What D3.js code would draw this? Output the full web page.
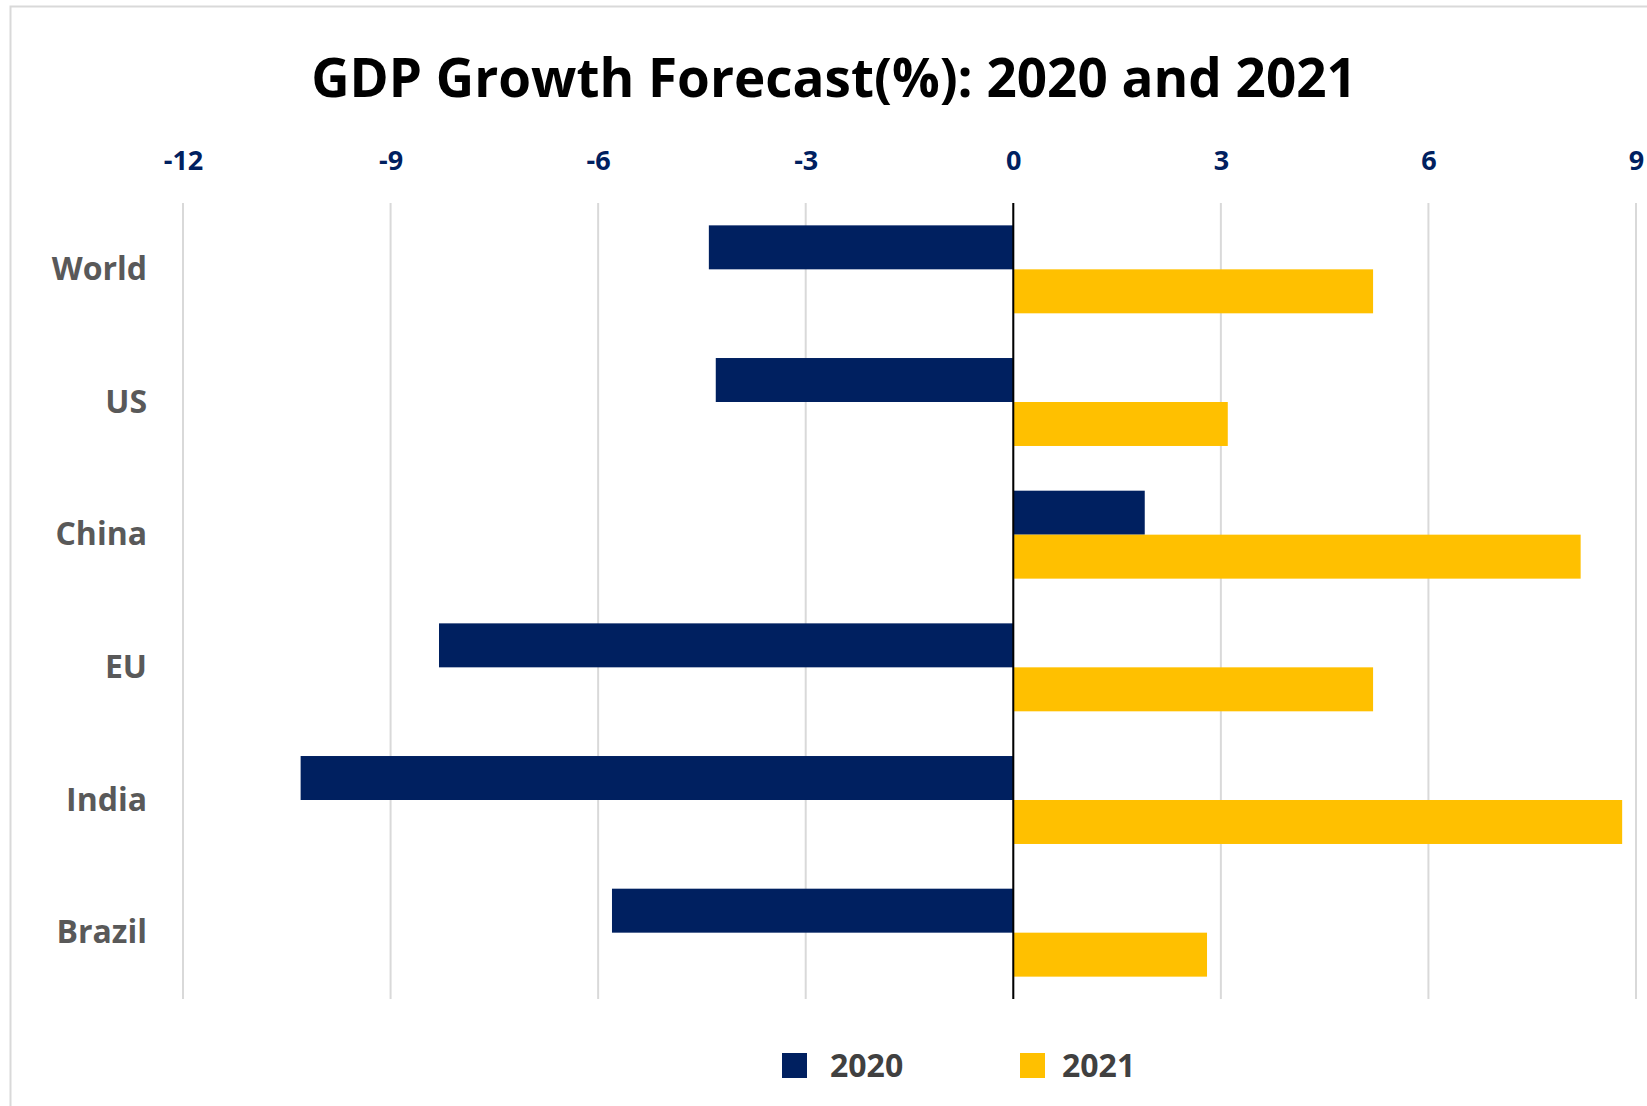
<!DOCTYPE html>
<html>
<head>
<meta charset="utf-8">
<script src="https://cdn.jsdelivr.net/npm/d3@7"></script>
<style>
    body { margin: 0; background: #fff; }
    svg { display: block; }
</style>
</head>
<body>
<svg id="chart"></svg>
<script>
const categories = ["World", "US", "China", "EU", "India", "Brazil"];
const seriesNames = ["2020", "2021"];
const values2020 = [-4.4, -4.3, 1.9, -8.3, -10.3, -5.8];
const values2021 = [5.2, 3.1, 8.2, 5.2, 8.8, 2.8];
const xTicks = [-12, -9, -6, -3, 0, 3, 6, 9];
const colors = { "2020": "#002060", "2021": "#FFC000" };

const width = 1647;
const height = 1106;
const margins = { top: 203, right: 11, bottom: 107, left: 183 };
const fontFamily = "'Open Sans', 'Noto Sans', sans-serif";

const svg = d3.select("#chart")
    .attr("width", width)
    .attr("height", height);

// chart frame (only left and top edges are visible in the original)
svg.append("rect")
    .attr("x", 10.5)
    .attr("y", 6.5)
    .attr("width", width)
    .attr("height", height)
    .attr("fill", "#fff")
    .attr("stroke", "#d9d9d9")
    .attr("stroke-width", 2);

const rows = categories.map((c, i) => ({ category: c, "2020": values2020[i], "2021": values2021[i] }));

const xScale = d3.scaleLinear()
    .domain([-12, 9])
    .range([margins.left, width - margins.right]);

const yScale = d3.scaleBand()
    .domain(categories)
    .range([margins.top, height - margins.bottom])
    .paddingInner(0.337)
    .paddingOuter(0.1685);

const ySub = d3.scaleBand()
    .domain(seriesNames)
    .range([0, yScale.bandwidth()]);

// gridlines
svg.append("g")
    .selectAll("line")
    .data(xTicks)
    .join("line")
    .attr("x1", d => xScale(d))
    .attr("x2", d => xScale(d))
    .attr("y1", margins.top)
    .attr("y2", height - margins.bottom)
    .attr("stroke", "#d9d9d9")
    .attr("stroke-width", 2);

// top tick labels (plain hyphen for negatives, as in the original)
const xAxis = d3.axisTop(xScale)
    .tickValues(xTicks)
    .tickFormat(d => String(d))
    .tickSize(0)
    .tickPadding(0);
const xAxisG = svg.append("g")
    .attr("transform", `translate(0, 170)`)
    .call(xAxis);
xAxisG.select(".domain").remove();
xAxisG.selectAll("text")
    .attr("fill", "#002060")
    .attr("font-family", fontFamily)
    .attr("font-weight", "bold")
    .attr("font-size", "27px")
    .attr("dy", 0);

// category labels
const yAxis = d3.axisLeft(yScale).tickSize(0).tickPadding(0);
const yAxisG = svg.append("g")
    .attr("transform", `translate(147, 0)`)
    .call(yAxis);
yAxisG.select(".domain").remove();
yAxisG.selectAll("text")
    .attr("fill", "#595959")
    .attr("font-family", fontFamily)
    .attr("font-weight", "bold")
    .attr("font-size", "32px")
    .attr("dy", "0.33em");

// bars
const groups = svg.append("g")
    .selectAll("g")
    .data(rows)
    .join("g")
    .attr("transform", d => `translate(0, ${yScale(d.category)})`);

groups.selectAll("rect")
    .data(d => seriesNames.map(s => ({ series: s, value: d[s] })))
    .join("rect")
    .attr("x", d => xScale(Math.min(0, d.value)))
    .attr("y", d => ySub(d.series))
    .attr("width", d => Math.abs(xScale(d.value) - xScale(0)))
    .attr("height", ySub.bandwidth())
    .attr("fill", d => colors[d.series]);

// zero line
svg.append("line")
    .attr("x1", xScale(0))
    .attr("x2", xScale(0))
    .attr("y1", margins.top)
    .attr("y2", height - margins.bottom)
    .attr("stroke", "#000")
    .attr("stroke-width", 2);

// title
svg.append("text")
    .attr("x", 834)
    .attr("y", 97)
    .attr("text-anchor", "middle")
    .attr("font-family", fontFamily)
    .attr("font-weight", "bold")
    .attr("font-size", "53px")
    .attr("fill", "#000")
    .text("GDP Growth Forecast(%): 2020 and 2021");

// legend
const legendX = { "2020": 782, "2021": 1020 };
const legendTextX = { "2020": 48, "2021": 42 };
const legend = svg.append("g")
    .selectAll("g")
    .data(seriesNames)
    .join("g")
    .attr("transform", d => `translate(${legendX[d]}, 1053)`);

legend.append("rect")
    .attr("width", 25)
    .attr("height", 25)
    .attr("fill", d => colors[d]);

legend.append("text")
    .attr("x", d => legendTextX[d])
    .attr("y", 24)
    .attr("font-family", fontFamily)
    .attr("font-weight", "bold")
    .attr("font-size", "32px")
    .attr("fill", "#404040")
    .text(d => d);
</script>
</body>
</html>
